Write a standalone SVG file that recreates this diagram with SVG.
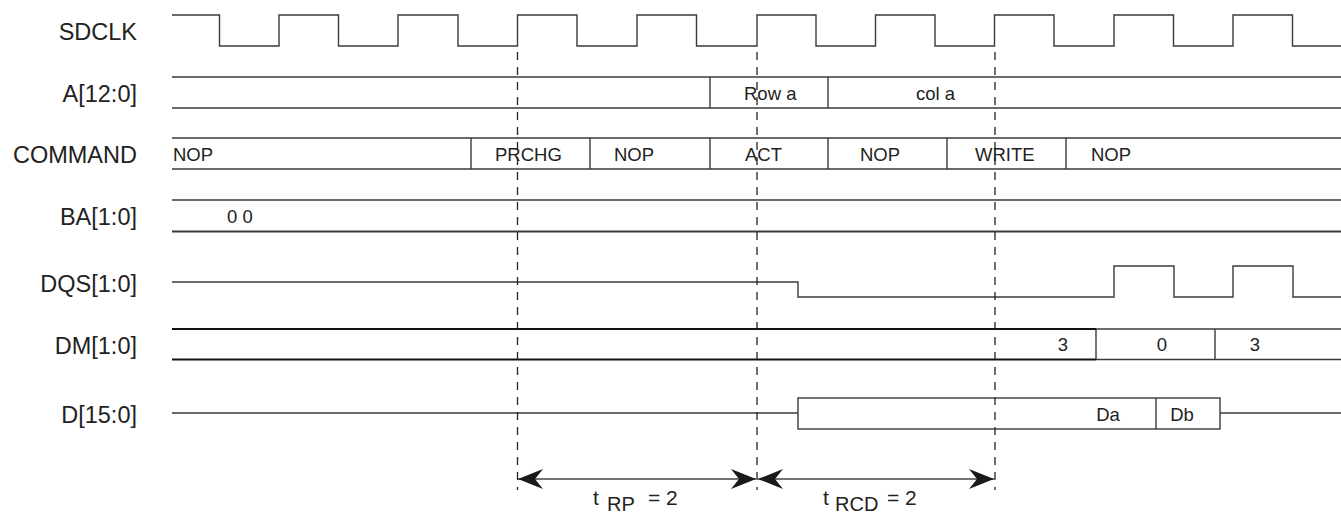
<svg xmlns="http://www.w3.org/2000/svg" width="1341" height="516" viewBox="0 0 1341 516">
<style>
.lbl{font-family:"Liberation Sans",Arial,sans-serif;font-size:23.5px;fill:#222;text-anchor:end}
.val{font-family:"Liberation Sans",Arial,sans-serif;font-size:18.5px;fill:#222}
.mid{text-anchor:middle}
.tm{font-family:"Liberation Sans",Arial,sans-serif;font-size:21px;fill:#222}
.sub{font-size:20px}
.w{fill:none;stroke:#3a3a3a;stroke-width:1.4}
.thick{fill:none;stroke:#111;stroke-width:2.2}
.dash{fill:none;stroke:#222;stroke-width:1.3;stroke-dasharray:8 7}
.arr{fill:none;stroke:#444;stroke-width:1.6}
</style>
<defs>
<marker id="ah" markerUnits="userSpaceOnUse" viewBox="0 0 25 20" refX="25" refY="10" markerWidth="25" markerHeight="20" orient="auto-start-reverse">
<path d="M0,0 L25,10 L0,20 L8,10 Z" fill="#1a1a1a"/>
</marker>
</defs>
<rect width="1341" height="516" fill="#fff"/>

<g id="sdclk">
<text class="lbl" x="137" y="40">SDCLK</text>
<path class="w" d="M172,15 H219.5 V46 H279 V15 H338.5 V46 H398 V15 H458 V46 H517.5 V15 H577 V46 H637 V15 H696.5 V46 H757 V15 H816 V46 H875.5 V15 H935 V46 H994.5 V15 H1054 V46 H1114 V15 H1173.5 V46 H1233 V15 H1292.5 V46 H1341"/>
</g>

<g id="addr">
<text class="lbl" x="137" y="102">A[12:0]</text>
<path class="w" d="M172,77 H1341 M172,108 H1341 M710,77 V108 M828,77 V108"/>
<text class="val" x="744" y="99.5">Row a</text>
<text class="val" x="916" y="99.5">col a</text>
</g>

<g id="command">
<text class="lbl" x="137" y="163">COMMAND</text>
<path class="w" d="M172,138 H1341 M172,169 H1341 M471,138 V169 M590,138 V169 M710,138 V169 M828,138 V169 M947,138 V169 M1066,138 V169"/>
<text class="val" x="173" y="160.5">NOP</text>
<text class="val" x="495" y="160.5">PRCHG</text>
<text class="val" x="614" y="160.5">NOP</text>
<text class="val" x="745" y="160.5">ACT</text>
<text class="val" x="860" y="160.5">NOP</text>
<text class="val" x="975" y="160.5">WRITE</text>
<text class="val" x="1091" y="160.5">NOP</text>
</g>

<g id="ba">
<text class="lbl" x="137" y="225">BA[1:0]</text>
<path class="w" d="M172,200 H1341"/>
<path class="w" d="M172,231.5 H1341" style="stroke-width:2"/>
<text class="val" x="227" y="222.5">0 0</text>
</g>

<g id="dqs">
<text class="lbl" x="137" y="291.5">DQS[1:0]</text>
<path class="w" d="M172,282 H798 V297 H1114 V266 H1174 V297 H1233 V266 H1293 V297 H1341"/>
</g>

<g id="dm">
<text class="lbl" x="137" y="353.5">DM[1:0]</text>
<path class="thick" d="M172,329 H1096 M172,359.5 H1096"/>
<path class="w" d="M1096,329 H1341 M1096,359.5 H1341 M1096,329 V359.5 M1215,329 V359.5"/>
<text class="val mid" x="1063" y="351">3</text>
<text class="val mid" x="1162" y="351">0</text>
<text class="val mid" x="1255" y="351">3</text>
</g>

<g id="data">
<text class="lbl" x="137" y="423">D[15:0]</text>
<path class="w" d="M172,413 H798 M1220,413 H1341"/>
<rect class="w" x="798" y="398" width="422" height="31"/>
<path class="w" d="M1156,398 V429"/>
<text class="val mid" x="1108" y="420.5">Da</text>
<text class="val mid" x="1182" y="420.5">Db</text>
</g>

<g id="connectors">
<path class="dash" d="M517.5,52 V490 M757,52 V490 M995,52 V490"/>
<path class="arr" d="M518,479 H756" marker-start="url(#ah)" marker-end="url(#ah)"/>
<path class="arr" d="M758,479 H994" marker-start="url(#ah)" marker-end="url(#ah)"/>
</g>

<g id="timing">
<text class="tm"><tspan x="593" y="505">t</tspan><tspan class="sub" x="607" y="511">RP</tspan><tspan x="648" y="505">= 2</tspan></text>
<text class="tm"><tspan x="823" y="505">t</tspan><tspan class="sub" x="835" y="511">RCD</tspan><tspan x="887" y="505">= 2</tspan></text>
</g>
</svg>
